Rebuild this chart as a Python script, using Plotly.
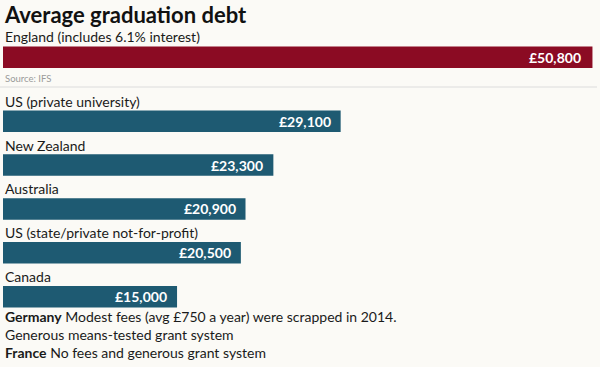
import plotly.graph_objects as go

# ---- data ----
title_text = "Average graduation debt"
england_category = ["England (includes 6.1% interest)"]
england_values = [50800]
source_text = "Source: IFS"
categories = ["US (private university)", "New Zealand", "Australia",
              "US (state/private not-for-profit)", "Canada"]
values = [29100, 23300, 20900, 20500, 15000]
notes_text = ("<b>Germany</b> Modest fees (avg £750 a year) were scrapped in 2014.<br>"
              "Generous means-tested grant system<br>"
              "<b>France</b> No fees and generous grant system")

W, H = 600, 367
BG = "#fbfaf6"
RED = "#8b0b23"
TEAL = "#1e5a72"
TXT = "#1a1a1a"
FONT = "Lato"


def py(p):
    return 1 - p / H


fig = go.Figure()
fig.add_trace(go.Bar(x=england_values, y=england_category, orientation="h",
                     marker=dict(color=RED, line=dict(width=0)),
                     xaxis="x", yaxis="y", hoverinfo="skip"))
fig.add_trace(go.Bar(x=values, y=categories, orientation="h",
                     marker=dict(color=TEAL, line=dict(width=0)),
                     xaxis="x", yaxis="y2", hoverinfo="skip"))

annotations = []
for cat, v in zip(england_category, england_values):
    annotations.append(dict(x=0, y=cat, xref="x", yref="y", xanchor="left", yanchor="middle",
                            yshift=21, text=cat, showarrow=False,
                            font=dict(family=FONT, size=14, color=TXT)))
    annotations.append(dict(x=v, y=cat, xref="x", yref="y", xanchor="right", yanchor="middle",
                            xshift=-9, text=f"£{v:,}", showarrow=False,
                            font=dict(family=FONT, size=14, color="white", weight="bold")))
for cat, v in zip(categories, values):
    annotations.append(dict(x=0, y=cat, xref="x", yref="y2", xanchor="left", yanchor="middle",
                            yshift=20, text=cat, showarrow=False,
                            font=dict(family=FONT, size=14, color=TXT)))
    annotations.append(dict(x=v, y=cat, xref="x", yref="y2", xanchor="right", yanchor="middle",
                            xshift=-8, text=f"£{v:,}", showarrow=False,
                            font=dict(family=FONT, size=14, color="white", weight="bold")))

annotations.append(dict(x=0, y=1, xref="paper", yref="paper", xanchor="left", yanchor="top",
                        text=f"<b>{title_text}</b>", showarrow=False, borderpad=0,
                        font=dict(family=FONT, size=22, color="#111111")))
annotations.append(dict(x=0, y=py(79), xref="paper", yref="paper", xanchor="left", yanchor="middle",
                        text=source_text, showarrow=False,
                        font=dict(family=FONT, size=9.5, color="#9a9a9a")))
annotations.append(dict(x=0, y=py(334), xref="paper", yref="paper", xanchor="left", yanchor="middle",
                        text=notes_text, showarrow=False, align="left",
                        font=dict(family=FONT, size=14, color=TXT)))

fig.update_layout(
    width=W, height=H,
    margin=dict(l=3, r=0, t=0, b=0),
    paper_bgcolor=BG, plot_bgcolor=BG,
    showlegend=False,
    bargap=0.51,
    xaxis=dict(range=[0, 51450], visible=False, fixedrange=True),
    yaxis=dict(domain=[py(79.1), py(35.3)], visible=False, range=[0.5, -0.5], fixedrange=True),
    yaxis2=dict(domain=[py(318.6), py(99.3)], visible=False, range=[4.5, -0.5],
                anchor="x", fixedrange=True),
    annotations=annotations,
    shapes=[dict(type="line", xref="paper", yref="paper", x0=-0.005, x1=0.995,
                 y0=py(87), y1=py(87), line=dict(color="#dcdcdc", width=1))],
)

fig.write_html("out.html", config={"displayModeBar": False},
               post_script="document.body.style.margin='0';document.body.style.background='%s';" % BG)
